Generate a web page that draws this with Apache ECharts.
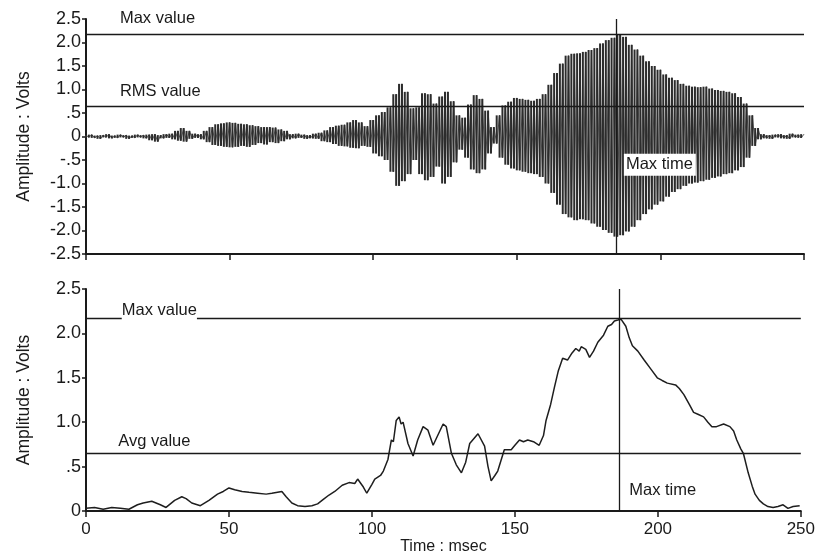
<!DOCTYPE html>
<html><head><meta charset="utf-8">
<script src="https://cdn.jsdelivr.net/npm/echarts@6/dist/echarts.min.js"></script>
<style>html,body{margin:0;padding:0;background:#fff}#c{width:818px;height:556px}</style>
</head><body><div id="c"></div>
<script>
// ---- Top panel: raw waveform, one alternating peak/trough sample per ms ----
const waveSampleMs = 1;
const waveValues = [
 0.03,-0.02,0.04,-0.03,0.02,-0.05,0.03,-0.02,0.05,-0.04,0.02,-0.03,0.04,-0.02,0.03,-0.05,0.02,-0.03,0.04,-0.02,
 0.03,-0.04,0.04,-0.08,0.05,-0.11,0.03,-0.04,0.05,-0.03,0.06,-0.06,0.12,-0.09,0.18,-0.11,0.12,-0.05,0.06,-0.03,
 0.05,-0.06,0.12,-0.12,0.2,-0.18,0.26,-0.2,0.28,-0.22,0.3,-0.23,0.29,-0.22,0.27,-0.2,0.26,-0.22,0.24,-0.18,
 0.22,-0.14,0.2,-0.17,0.2,-0.12,0.19,-0.14,0.15,-0.1,0.12,-0.06,0.05,-0.04,0.06,-0.03,0.04,-0.05,0.03,-0.04,
 0.06,-0.05,0.08,-0.1,0.13,-0.12,0.2,-0.16,0.23,-0.2,0.25,-0.21,0.3,-0.24,0.35,-0.25,0.3,-0.2,0.22,-0.22,
 0.35,-0.36,0.45,-0.42,0.52,-0.5,0.62,-0.75,0.9,-1.05,1.12,-0.95,0.95,-0.8,0.6,-0.5,0.62,-0.8,0.92,-0.93,
 0.9,-0.86,0.7,-0.64,0.85,-1.0,0.95,-0.86,0.75,-0.55,0.45,-0.28,0.4,-0.45,0.68,-0.7,0.88,-0.78,0.8,-0.7,
 0.55,-0.36,0.2,-0.15,0.45,-0.45,0.66,-0.6,0.74,-0.68,0.82,-0.72,0.8,-0.75,0.78,-0.78,0.76,-0.8,0.8,-0.86,
 0.9,-1.0,1.1,-1.2,1.35,-1.45,1.55,-1.65,1.72,-1.72,1.76,-1.78,1.77,-1.76,1.8,-1.78,1.84,-1.85,1.88,-1.92,
 1.98,-1.99,2.05,-2.05,2.1,-2.13,2.16,-2.1,2.12,-2.02,1.95,-1.92,1.85,-1.78,1.72,-1.65,1.6,-1.55,1.5,-1.45,
 1.42,-1.38,1.32,-1.28,1.25,-1.18,1.2,-1.12,1.12,-1.05,1.08,-1.0,1.06,-0.98,1.05,-0.95,1.06,-0.92,1.02,-0.88,
 0.99,-0.85,0.97,-0.8,0.95,-0.78,0.92,-0.72,0.84,-0.65,0.7,-0.45,0.45,-0.2,0.18,-0.06,0.05,-0.04,0.03,-0.05,
 0.04,-0.02,0.05,-0.04,0.03,-0.05,0.06,-0.02,0.04,-0.03,0.05
];
const topMaxValue = 2.17;
const topRmsValue = 0.65;
const topMaxTime = 184.5;

// ---- Bottom panel: rectified/smoothed amplitude ----
const envTime = [0,3,6,9,12,15,18,20,23,26,28,31,33.5,35,37,40,43,46,48,50,52,54.6,57,60,63,65,68.5,70,72,74,76.6,79,81,83,85,87,89.6,92,94,95,97,98.2,100,101,103,104,105.6,106.8,107.5,108.5,109.5,110.2,110.9,112.6,114.4,116,117.9,119.6,121.4,123,124.9,126,127.8,129.5,131.3,132.8,134.2,137.1,139.4,140.6,141.7,143,144,146.3,148.7,150,151.6,153,154.5,156.5,158.5,160,160.9,162.5,163.8,165.2,166.7,168.4,170,171.3,172.5,173.2,174.8,176.1,177.5,179,181,182.5,183.8,184.8,186,187.1,188.8,190,191.1,193,195.2,197.5,199.8,201.5,203.3,206.2,207.5,209.1,211,212.5,214,216,217.5,218.9,220.5,223,225.2,226.5,227.6,229,229.9,231.6,233,234,235.5,236.9,238.5,240.3,242,243.8,245.5,247.3,249.6];
const envValue = [0.03,0.04,0.02,0.04,0.03,0.02,0.07,0.09,0.11,0.07,0.04,0.12,0.16,0.14,0.09,0.06,0.12,0.19,0.22,0.26,0.24,0.22,0.21,0.2,0.19,0.2,0.22,0.16,0.09,0.06,0.05,0.06,0.08,0.13,0.18,0.22,0.29,0.32,0.31,0.36,0.27,0.2,0.3,0.36,0.4,0.45,0.58,0.8,0.78,1.02,1.06,0.98,1.0,0.76,0.62,0.8,0.95,0.91,0.74,0.85,0.98,0.95,0.65,0.52,0.43,0.55,0.76,0.87,0.73,0.5,0.34,0.4,0.45,0.69,0.69,0.74,0.8,0.78,0.8,0.78,0.74,0.85,1.02,1.2,1.39,1.58,1.72,1.7,1.78,1.83,1.8,1.85,1.82,1.73,1.8,1.9,1.98,2.08,2.1,2.14,2.15,2.16,2.08,1.95,1.86,1.8,1.7,1.6,1.5,1.47,1.44,1.42,1.38,1.31,1.2,1.11,1.09,1.06,1.0,0.95,0.95,0.98,0.95,0.9,0.8,0.7,0.65,0.43,0.28,0.19,0.12,0.08,0.05,0.04,0.05,0.07,0.03,0.05,0.06];
const botMaxValue = 2.17;
const botAvgValue = 0.65;
const botMaxTime = 186.5;

const ink = '#1a1a1a';
const FONT = "'Liberation Sans', Arial, Helvetica, sans-serif";
const fmtY = v => v === 0 ? '0' : (Math.abs(v) === 0.5 ? (v < 0 ? '-.5' : '.5') : v.toFixed(1));

function xAx(grid, labels){
  return {
    type:'value', gridIndex:grid, min:0, max:250, interval:50,
    axisLine:{onZero:false, lineStyle:{color:ink, width:2}},
    axisTick:{show:true, length:6, lineStyle:{color:ink, width:1.5}},
    axisLabel:{show:labels, color:ink, fontSize:17, fontFamily:FONT, margin:10},
    splitLine:{show:false},
    name: labels ? 'Time : msec' : '', nameLocation:'middle', nameGap:28,
    nameTextStyle:{color:ink, fontSize:16, fontFamily:FONT}
  };
}
function yAx(grid, min, max){
  return {
    type:'value', gridIndex:grid, min:min, max:max, interval:0.5,
    axisLine:{show:true, onZero:false, lineStyle:{color:ink, width:2}},
    axisTick:{show:true, length:4, lineStyle:{color:ink, width:1.5}},
    axisLabel:{color:ink, fontSize:18, fontFamily:FONT, margin:5, formatter:fmtY},
    splitLine:{show:false},
    name:'Amplitude : Volts', nameLocation:'middle', nameGap:53,
    nameTextStyle:{color:ink, fontSize:17.5, fontFamily:FONT}
  };
}
const refLine = {color:ink, width:1.3, type:'solid'};
const lbl = (text, offset, extra) => Object.assign({
  show:true, formatter:text, position:'right', distance:0, offset:offset,
  color:ink, fontSize:16.5, fontFamily:FONT
}, extra||{});

// each sample -> vertical stroke spanning it and the next (peak to trough)
const waveStrokes = waveValues.slice(0, -1).map((v, i) => {
  const w = waveValues[i + 1];
  return [i * waveSampleMs, Math.max(v, w), Math.min(v, w)];
});

const option = {
  animation:false,
  backgroundColor:'#fff',
  grid:[
    {left:86, right:14, top:19, height:235},
    {left:86, right:14, top:289, height:227}
  ],
  xAxis:[xAx(0,false), xAx(1,true)],
  yAxis:[yAx(0,-2.5,2.5), yAx(1,0,2.5)],
  series:[
    {
      type:'custom', xAxisIndex:0, yAxisIndex:0, silent:true,
      data: waveStrokes,
      encode:{x:0, y:[1,2]},
      renderItem:(params, api) => {
        const top = api.coord([api.value(0), api.value(1)]);
        const bot = api.coord([api.value(0), api.value(2)]);
        return {type:'rect', shape:{x:top[0]-1, y:top[1], width:2, height:Math.max(1.2, bot[1]-top[1])},
                style:{fill:'#2c2c2c'}};
      }
    },
    {
      type:'line', xAxisIndex:0, yAxisIndex:0, showSymbol:false, silent:true,
      data: waveValues.map((v,i)=>[i*waveSampleMs, v]),
      lineStyle:{color:'#2c2c2c', width:0.8},
      markLine:{
        silent:true, symbol:'none', label:{show:false}, lineStyle:refLine,
        data:[{yAxis:topMaxValue},{yAxis:topRmsValue},{xAxis:topMaxTime}]
      },
      markPoint:{
        silent:true, symbol:'circle', symbolSize:0,
        data:[
          {coord:[11.8, topMaxValue], label:lbl('Max value',[0,-16])},
          {coord:[11.8, topRmsValue], label:lbl('RMS value',[0,-14])},
          {coord:[topMaxTime, -0.6], label:lbl('Max time',[8,0],{backgroundColor:'#fff', padding:[3,3,2,2]})}
        ]
      }
    },
    {
      type:'line', xAxisIndex:1, yAxisIndex:1, showSymbol:false, silent:true,
      data: envTime.map((t,i)=>[t, envValue[i]]),
      lineStyle:{color:'#1e1e1e', width:1.5},
      markLine:{
        silent:true, symbol:'none', label:{show:false}, lineStyle:refLine,
        data:[{yAxis:botMaxValue},{yAxis:botAvgValue},{xAxis:botMaxTime}]
      },
      markPoint:{
        silent:true, symbol:'circle', symbolSize:0,
        data:[
          {coord:[12.5, botMaxValue], label:lbl('Max value',[0,-8],{backgroundColor:'#fff', padding:[2,0,3,0]})},
          {coord:[11.3, botAvgValue], label:lbl('Avg value',[0,-12])},
          {coord:[botMaxTime, 0.23], label:lbl('Max time',[10,0])}
        ]
      }
    }
  ]
};
const chart = echarts.init(document.getElementById('c'), null, {renderer:'canvas'});
chart.setOption(option);
</script>
</body></html>
